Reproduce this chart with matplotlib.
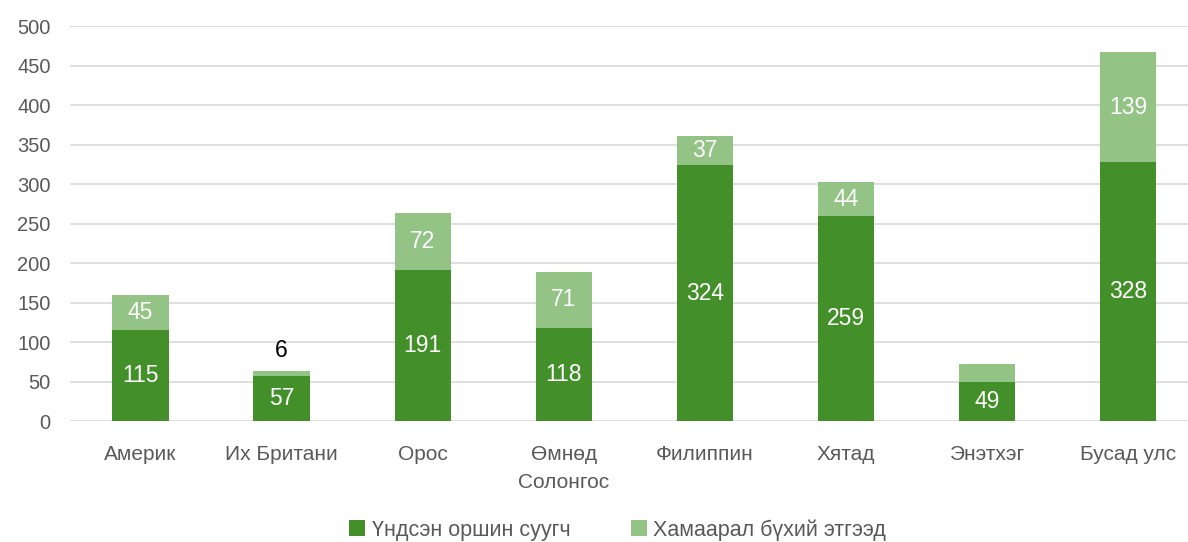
import numpy as np
import matplotlib.pyplot as plt

# data
countries = ['Америк', 'Их Британи', 'Орос', 'Өмнөд\nСолонгос', 'Филиппин',
             'Хятад', 'Энэтхэг', 'Бусад улс']
main_res = [115, 57, 191, 118, 324, 259, 49, 328]
related = [45, 6, 72, 71, 37, 44, 23, 139]
related_labels = ['45', '6', '72', '71', '37', '44', '', '139']

dark = '#43902a'
light = '#93c385'
grey = '#595959'

plt.rcParams['font.family'] = ['Liberation Sans', 'DejaVu Sans']

fig = plt.figure(figsize=(11.88, 5.42), dpi=100)
ax = fig.add_axes([0.059, 0.223, 0.95, 0.729])

x = np.arange(len(countries))
w = 0.4
b1 = ax.bar(x, main_res, w, color=dark, label='Үндсэн оршин суугч', zorder=3)
b2 = ax.bar(x, related, w, bottom=main_res, color=light,
            label='Хамаарал бүхий этгээд', zorder=3)

# value labels
for i in range(len(x)):
    ax.text(x[i], main_res[i] / 2, str(main_res[i]), ha='center', va='center',
            color='white', fontsize=16.5, zorder=4)
    lab = related_labels[i]
    if lab == '':
        continue
    if related[i] < 15:
        ax.text(x[i], main_res[i] + related[i] + 26, lab, ha='center',
                va='center', color='black', fontsize=16.5, zorder=4)
    else:
        ax.text(x[i], main_res[i] + related[i] / 2, lab, ha='center',
                va='center', color='white', fontsize=16.5, zorder=4)

ax.set_ylim(0, 500)
ax.set_yticks(range(0, 501, 50))
ax.set_xlim(-0.5, len(x) - 0.5)
ax.set_xticks(x)
ax.set_xticklabels(countries, linespacing=1.6)
ax.grid(axis='y', color='#d9d9d9', linewidth=1.2, zorder=0)
for s in ax.spines.values():
    s.set_visible(False)
ax.tick_params(axis='both', length=0, colors=grey)
ax.tick_params(axis='x', pad=17, labelsize=15)
ax.tick_params(axis='y', pad=14, labelsize=14.5)

fig.legend(loc='center', bbox_to_anchor=(0.52, 0.022), ncol=2, frameon=False,
           fontsize=15.5, handlelength=0.75, handleheight=0.75, handletextpad=0.3,
           columnspacing=2.8, labelcolor=grey, borderpad=0.1)

fig.savefig('out.png', dpi=100)
